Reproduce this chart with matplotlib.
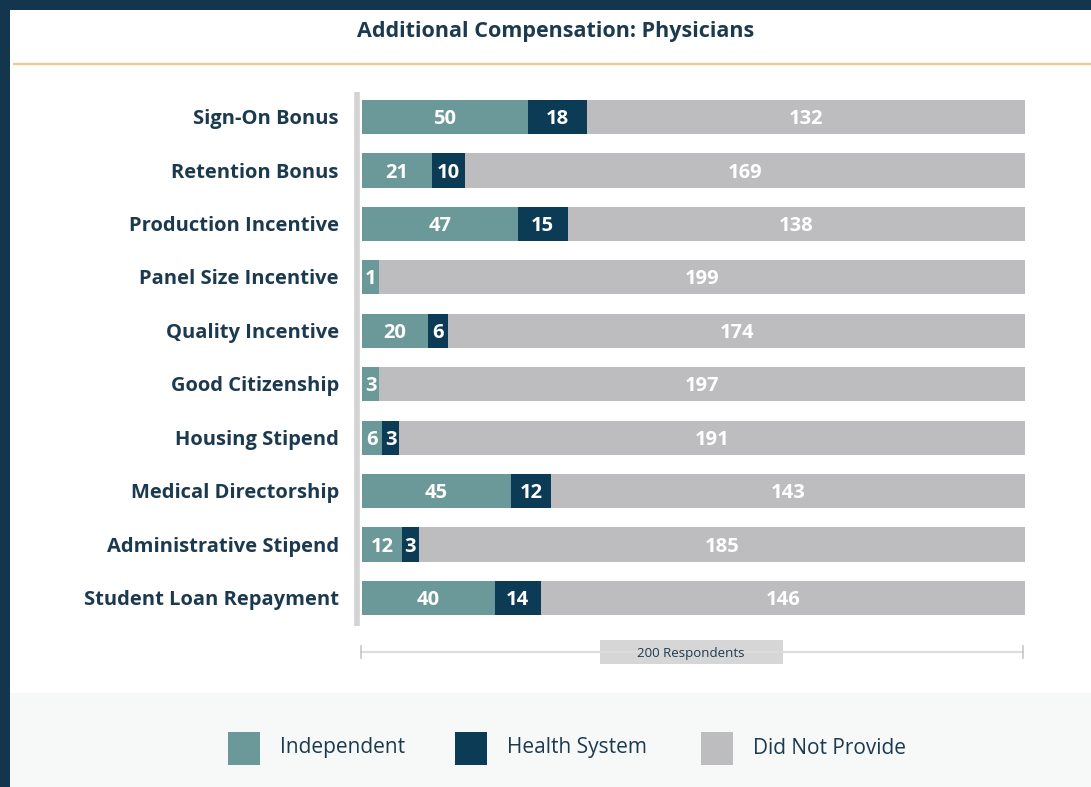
import numpy as np
import matplotlib.pyplot as plt
from matplotlib.patches import Rectangle
from matplotlib.lines import Line2D

categories = ["Sign-On Bonus", "Retention Bonus", "Production Incentive",
              "Panel Size Incentive", "Quality Incentive", "Good Citizenship",
              "Housing Stipend", "Medical Directorship", "Administrative Stipend",
              "Student Loan Repayment"]
independent = [50, 21, 47, 1, 20, 3, 6, 45, 12, 40]
health_system = [18, 10, 15, 0, 6, 0, 3, 12, 3, 14]
did_not_provide = [132, 169, 138, 199, 174, 197, 191, 143, 185, 146]
series_names = ["Independent", "Health System", "Did Not Provide"]
colors = ["#6b9898", "#0c3c55", "#bdbdc0"]
total = 200

NAVY = "#1c3a4f"
FONT = ["Open Sans", "DejaVu Sans"]
plt.rcParams["font.family"] = FONT

W, H = 1091, 787
fig = plt.figure(figsize=(W / 100, H / 100), dpi=100)
fig.patch.set_facecolor("#13354d")

def fx(px):
    return px / W

def fy(py):
    return 1 - py / H

# white card + legend band
fig.add_artist(Rectangle((fx(10), 0), fx(W - 10), fy(10), transform=fig.transFigure,
                         facecolor="white", edgecolor="none", zorder=0))
fig.add_artist(Rectangle((fx(10), 0), fx(W - 10), fy(693), transform=fig.transFigure,
                         facecolor="#f7f8f8", edgecolor="none", zorder=0))

fig.text(fx(556), fy(32), "Additional Compensation: Physicians", ha="center", va="center",
         fontsize=15.5, fontweight="bold", color=NAVY)
fig.add_artist(Line2D([fx(14), 1], [fy(64), fy(64)], transform=fig.transFigure,
                      color="#f7c48c", lw=1.6))

# main axes
top, bottom = 90.3, 624.7
ax = fig.add_axes([fx(362), fy(bottom), fx(1025) - fx(362), (bottom - top) / H])
ax.set_xlim(0, total)
ax.set_ylim(len(categories) - 0.5, -0.5)
ax.axis("off")

min_w = 5.2  # smallest drawn width so tiny segments still fit a label
dy = 0.04    # nudge text to visual centre
y = np.arange(len(categories))
for i in range(len(categories)):
    left = 0
    for j, vals in enumerate([independent, health_system, did_not_provide]):
        v = vals[i]
        if v == 0:
            continue
        w = total - left if j == 2 else max(v, min_w)
        ax.barh(y[i], w, left=left, height=0.64, color=colors[j], edgecolor="none")
        ax.text(left + w / 2, y[i] + dy, str(v), ha="center", va="center", color="white",
                fontsize=14.5, fontweight="bold")
        left += w
    ax.text(-7, y[i] + dy, categories[i], ha="right", va="center", fontsize=14.5,
            fontweight="bold", color=NAVY, clip_on=False)

# vertical axis bar
fig.add_artist(Line2D([fx(357), fx(357)], [fy(92), fy(626)], transform=fig.transFigure,
                      color="#d3d3d3", lw=4, solid_capstyle="butt"))

# respondents bracket
fig.add_artist(Line2D([fx(361), fx(1023)], [fy(652), fy(652)], transform=fig.transFigure,
                      color="#dcdcdc", lw=1.5))
for xp in (361, 1023):
    fig.add_artist(Line2D([fx(xp), fx(xp)], [fy(646), fy(658)], transform=fig.transFigure,
                          color="#c8c8c8", lw=1.2))
fig.add_artist(Rectangle((fx(600), fy(664)), fx(783) - fx(600), (664 - 640) / H,
                         transform=fig.transFigure, facecolor="#d6d6d6", edgecolor="none"))
fig.text(fx(691), fy(653), f"{total} Respondents", ha="center", va="center",
         fontsize=9.5, color=NAVY)

# legend
leg_x = [228, 455, 701]
for name, c, xp in zip(series_names, colors, leg_x):
    fig.add_artist(Rectangle((fx(xp), fy(765)), fx(32), 33 / H, transform=fig.transFigure,
                             facecolor=c, edgecolor="none"))
    fig.text(fx(xp + 52), fy(748), name, ha="left", va="center", fontsize=15,
             color=NAVY)

fig.savefig("out.png", dpi=100, facecolor=fig.get_facecolor())
